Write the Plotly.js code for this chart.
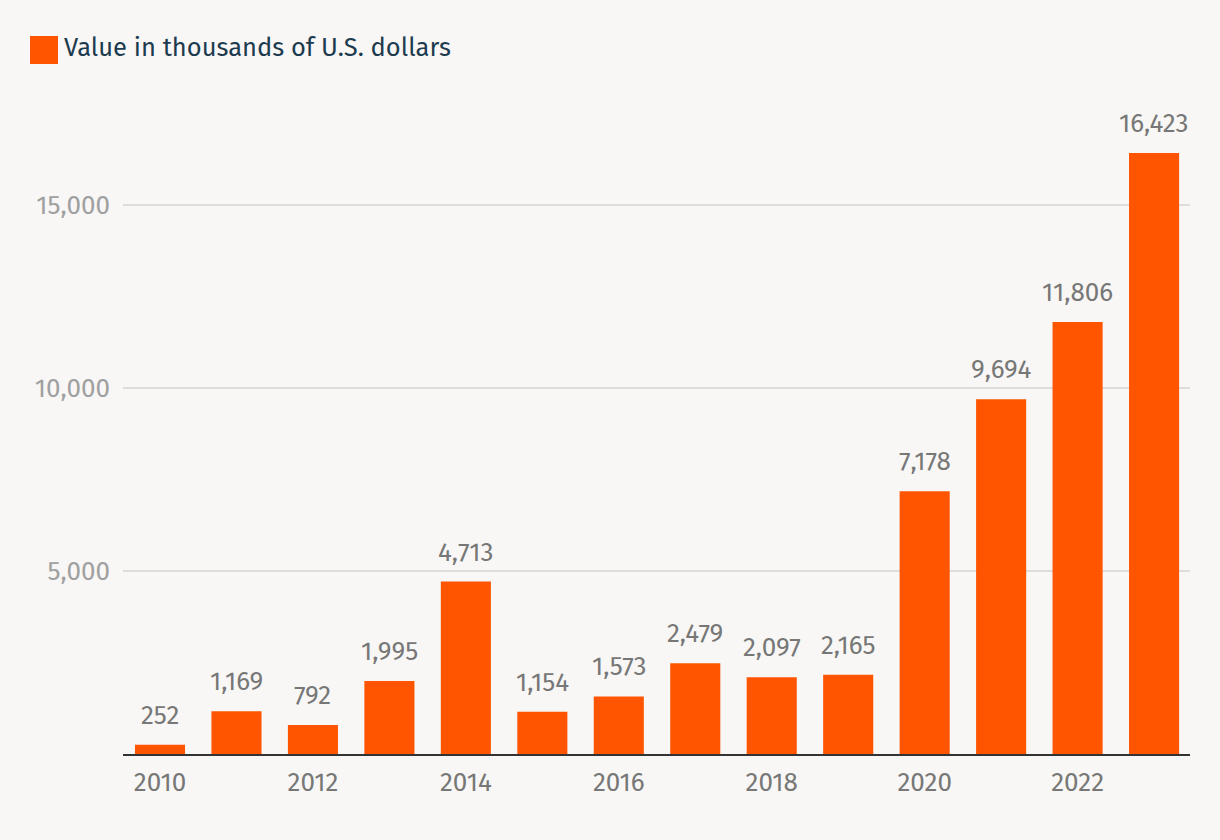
<!DOCTYPE html>
<html><head><meta charset="utf-8">
<script src="https://cdn.plot.ly/plotly-3.0.1.min.js"></script>
<style>html,body{margin:0;padding:0;background:#f8f7f5;}</style>
</head><body>
<div id="chart" style="width:1220px;height:840px;"></div>
<script>
const years = [2010,2011,2012,2013,2014,2015,2016,2017,2018,2019,2020,2021,2022,2023];
const values = [252,1169,792,1995,4713,1154,1573,2479,2097,2165,7178,9694,11806,16423];
const seriesName = "Value in thousands of U.S. dollars";
const yTicks = [5000,10000,15000];
const yTickLabels = ["5,000","10,000","15,000"];
const xTicks = [2010,2012,2014,2016,2018,2020,2022];

const font = "'Fira Sans','Noto Sans','Open Sans',sans-serif";
const trace = {
  type:'bar', x:years, y:values, name:seriesName,
  marker:{color:'#ff5500'},
  hoverinfo:'x+y'
};
const labelAnns = years.map((yr,i)=>({
  x:yr, y:values[i], xref:'x', yref:'y', text:values[i].toLocaleString('en-US'),
  showarrow:false, xanchor:'center', yanchor:'bottom', yshift:12,
  font:{family:font,size:26,color:'#777777'}
}));
const layout = {
  width:1220, height:840,
  paper_bgcolor:'#f8f7f5', plot_bgcolor:'#f8f7f5',
  margin:{l:123,r:30,t:100,b:86},
  showlegend:false,
  bargap:0.345,
  font:{family:font},
  xaxis:{range:[2009.516,2023.47], tickvals:xTicks, ticktext:xTicks.map(String),
    showline:true, linecolor:'#333333', linewidth:2, showgrid:false, zeroline:false,
    ticks:'', tickfont:{family:font,size:26,color:'#777777'}, ticklabelstandoff:4},
  yaxis:{range:[0,17870], tickvals:yTicks, ticktext:yTickLabels,
    showgrid:true, gridcolor:'#dddddd', gridwidth:1.5, zeroline:false, showline:false,
    ticks:'', tickfont:{family:font,size:26,color:'#a0a0a0'}, ticklabelstandoff:12},
  shapes:[{type:'rect', xref:'paper', yref:'paper', x0:-93/1067, x1:-65/1067,
    y0:(754-64)/654, y1:(754-36)/654, fillcolor:'#ff5500', line:{width:0}}],
  annotations:[{xref:'paper', yref:'paper', x:-61/1067, y:(754-48)/654,
    xanchor:'left', yanchor:'middle', showarrow:false, text:seriesName,
    font:{family:font,size:25.5,color:'#1d3b4f'}}].concat(labelAnns)
};
Plotly.newPlot('chart',[trace],layout,{displayModeBar:false,staticPlot:true});
</script>
</body></html>
